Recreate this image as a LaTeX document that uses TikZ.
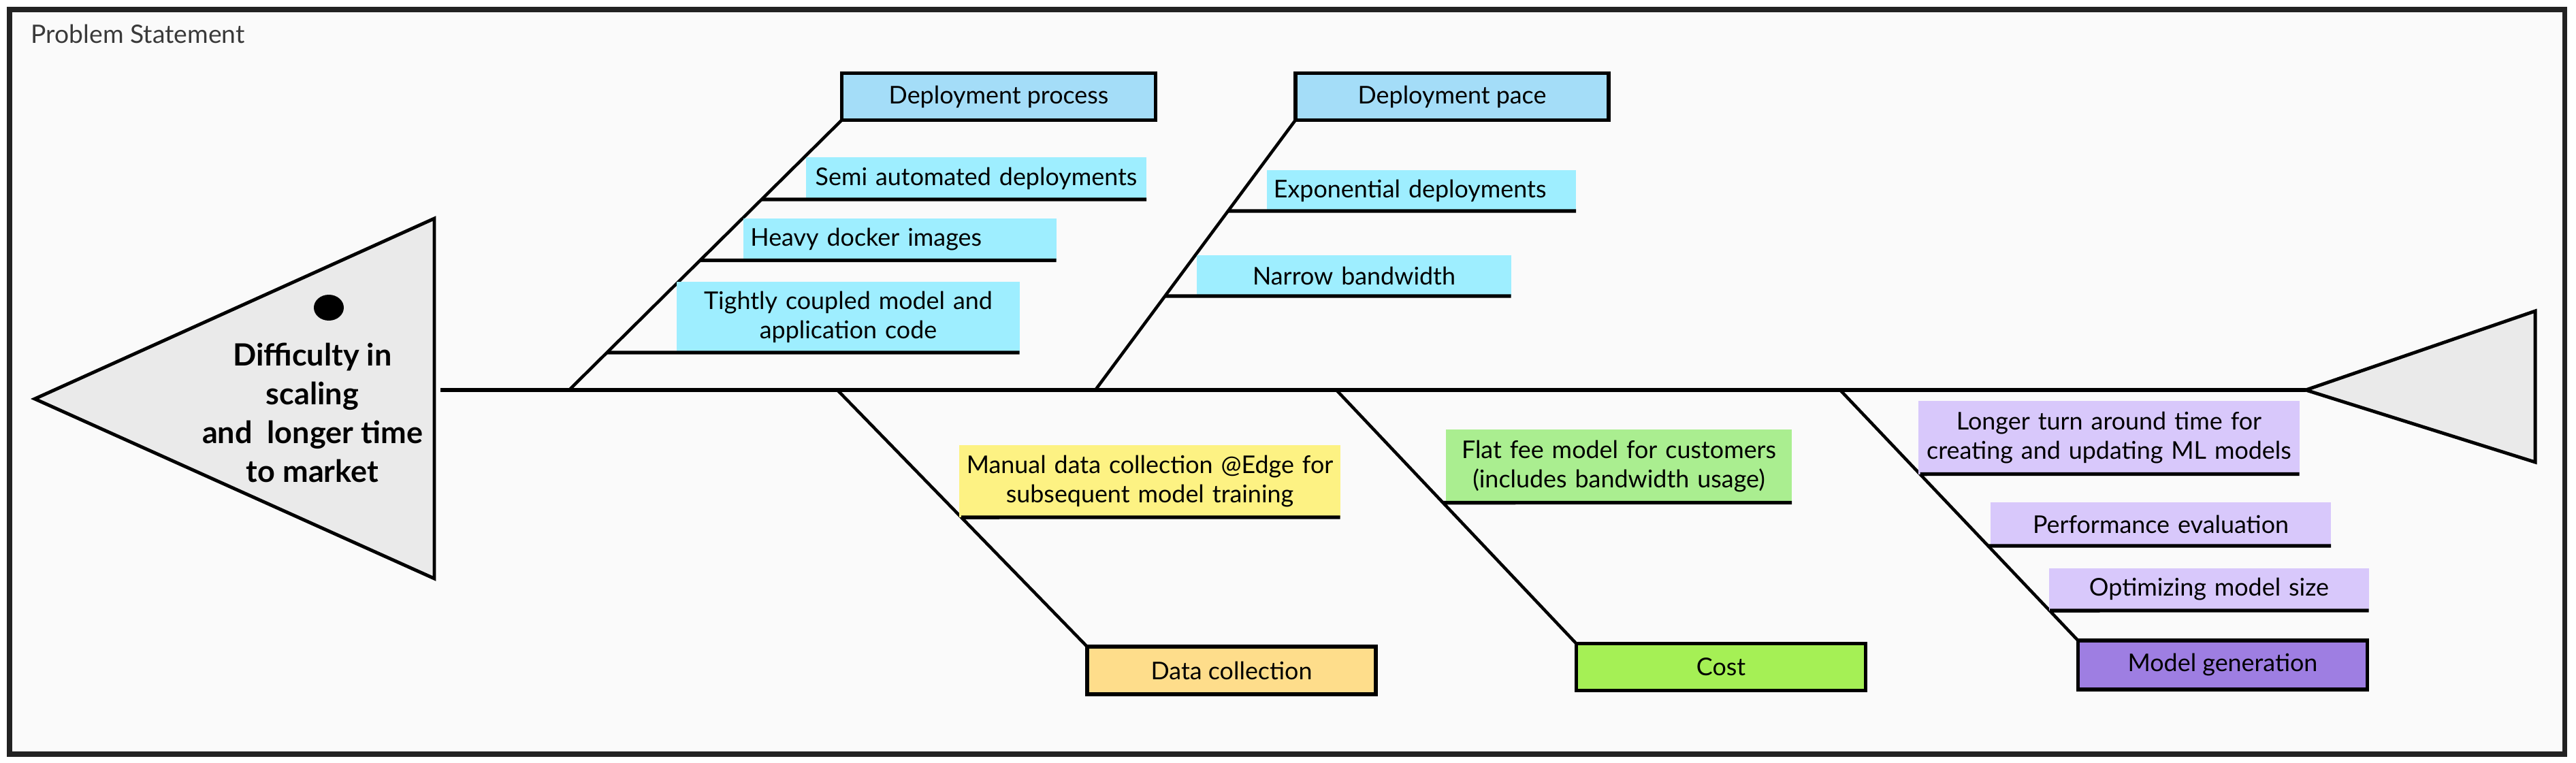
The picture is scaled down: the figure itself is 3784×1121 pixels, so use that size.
\documentclass[tikz,border=0pt]{standalone}
\usepackage{fontspec}
\setmainfont{Lato}
\definecolor{bgpaper}{HTML}{FAFAFA}
\definecolor{framegray}{HTML}{222222}
\definecolor{titlegray}{HTML}{3A3A3A}
\definecolor{headgray}{HTML}{EAEAEA}
\definecolor{deploy}{HTML}{A4DDF8}
\definecolor{deploysub}{HTML}{9EEEFF}
\definecolor{datahead}{HTML}{FEDD8B}
\definecolor{datasub}{HTML}{FDF283}
\definecolor{costhead}{HTML}{A5F055}
\definecolor{costsub}{HTML}{AAEE90}
\definecolor{modelhead}{HTML}{9E7EE2}
\definecolor{modelsub}{HTML}{D8C8FB}
\begin{document}
\begin{tikzpicture}[x=0.01cm, y=-0.01cm,
	every node/.style={outer sep=0pt, font=\fontsize{10.2}{12.3}\selectfont},
	cause/.style={rectangle, draw, line width=1.6pt, minimum width=4.25cm},
	reason/.style={rectangle, inner xsep=0.1cm, inner ysep=0pt, align=center},
	bone/.style={line width=1.3pt},
	rib/.style={line width=1.5pt},
	fishend/.style={draw, fill=headgray, line width=1.4pt, line join=miter}]
	\useasboundingbox (0,0) rectangle (3784,1121);
	\draw[framegray, line width=2pt, fill=bgpaper] (14,14) rectangle (3767,1108);
	\node (title) at (34,63) [anchor=base west, text=titlegray, font=\fontsize{10.6}{12}\selectfont] {Problem Statement};
	
	\draw[fishend] (51,586) -- (638,321) -- (638,850) -- cycle;
	\fill (483,452) ellipse [x radius=22, y radius=19];
	\node (effect) at (459,606) [align=center, font=\bfseries\fontsize{12.8}{16.2}\selectfont] {Difficulty in\\scaling\\and\ \ longer time\\to market};
	\draw[fishend] (3387,573) -- (3724,457) -- (3724,679) -- cycle;
	
	\coordinate (spl) at (647,573);
	\coordinate (tail) at (3387,573);
	\coordinate (j1) at (836,573);
	\coordinate (j2) at (1609,573);
	\coordinate (j3) at (1230,573);
	\coordinate (j4) at (1963,573);
	\coordinate (j5) at (2703,573);
	\draw[line width=1.5pt] (spl) -- (tail);
	
	\node (dproc) at (1467,142) [cause, fill=deploy, minimum width=4.61cm, minimum height=0.69cm] {Deployment process};
	\node (dpace) at (2133,142) [cause, fill=deploy, minimum width=4.6cm, minimum height=0.69cm] {Deployment pace};
	\node (dcoll) at (1809,985) [cause, fill=datahead, minimum width=4.24cm, minimum height=0.7cm] {Data collection};
	\node (cost) at (2528,980) [cause, fill=costhead, minimum height=0.69cm] {Cost};
	\node (mgen) at (3265,977) [cause, fill=modelhead, minimum height=0.72cm] {Model generation};
	
	\draw[bone] (j1) -- (dproc.south west);
	\draw[bone] (j2) -- (dpace.south west);
	\draw[bone] (j3) -- (dcoll.north west);
	\draw[bone] (j4) -- (cost.north west);
	\draw[bone] (j5) -- (mgen.north west);
	
	\node (semi) at (1434,262) [reason, fill=deploysub, text width=4.8cm, minimum height=0.62cm] {Semi automated deployments};
	\node (heavy) at (1322,352) [reason, fill=deploysub, text width=4.39cm, align=left, minimum height=0.61cm] {Heavy docker images};
	\node (tight) at (1246,466) [reason, fill=deploysub, text width=4.83cm, minimum height=1.04cm] {Tightly coupled model and\\application code};
	\node (expo) at (2088,280) [reason, fill=deploysub, text width=4.34cm, align=left, minimum height=0.6cm] {Exponential deployments};
	\node (narrow) at (1989,405) [reason, fill=deploysub, text width=4.41cm, minimum height=0.6cm] {Narrow bandwidth};
	\node (manual) at (1689,707) [reason, fill=datasub, text width=5.39cm, minimum height=1.06cm] {Manual data collection @Edge for\\subsequent model training};
	\node (flat) at (2378,685) [reason, fill=costsub, text width=4.88cm, minimum height=1.07cm] {Flat fee model for customers\\(includes bandwidth usage)};
	\node (longer) at (3098,643) [reason, fill=modelsub, text width=5.39cm, minimum height=1.07cm] {Longer turn around time for\\creating and updating ML models};
	\node (perf) at (3174,770) [reason, fill=modelsub, text width=4.8cm, minimum height=0.64cm] {Performance evaluation};
	\node (optim) at (3245,866) [reason, fill=modelsub, text width=4.49cm, minimum height=0.62cm] {Optimizing model size};
	
	\draw[rib] (intersection cs: first line={(j1)--(dproc.south west)}, second line={(semi.south west)--(semi.south east)}) -- (semi.south east);
	\draw[rib] (intersection cs: first line={(j1)--(dproc.south west)}, second line={(heavy.south west)--(heavy.south east)}) -- (heavy.south east);
	\draw[rib] (intersection cs: first line={(j1)--(dproc.south west)}, second line={(tight.south west)--(tight.south east)}) -- (tight.south east);
	\draw[rib] (intersection cs: first line={(j2)--(dpace.south west)}, second line={(expo.south west)--(expo.south east)}) -- (expo.south east);
	\draw[rib] (intersection cs: first line={(j2)--(dpace.south west)}, second line={(narrow.south west)--(narrow.south east)}) -- (narrow.south east);
	\draw[rib] (intersection cs: first line={(j3)--(dcoll.north west)}, second line={(manual.south west)--(manual.south east)}) -- (manual.south east);
	\draw[rib] (intersection cs: first line={(j4)--(cost.north west)}, second line={(flat.south west)--(flat.south east)}) -- (flat.south east);
	\draw[rib] (intersection cs: first line={(j5)--(mgen.north west)}, second line={(longer.south west)--(longer.south east)}) -- (longer.south east);
	\draw[rib] (intersection cs: first line={(j5)--(mgen.north west)}, second line={(perf.south west)--(perf.south east)}) -- (perf.south east);
	\draw[rib] (intersection cs: first line={(j5)--(mgen.north west)}, second line={(optim.south west)--(optim.south east)}) -- (optim.south east);
\end{tikzpicture}
\end{document}
